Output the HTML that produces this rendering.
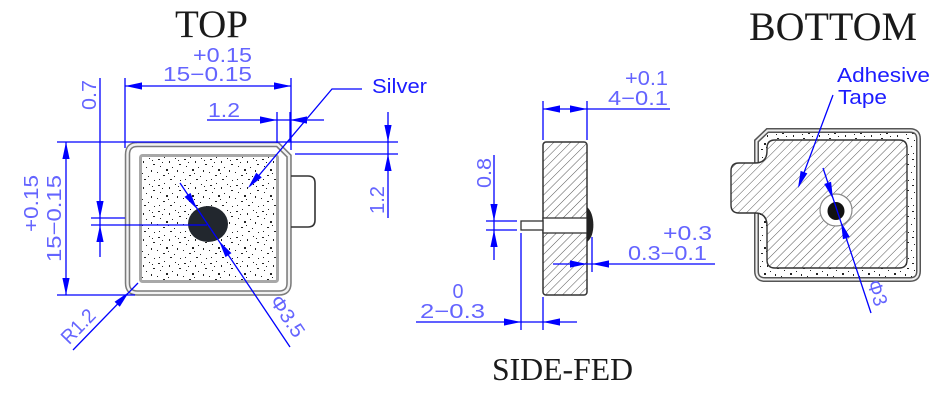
<!DOCTYPE html>
<html><head><meta charset="utf-8"><style>
html,body{margin:0;padding:0;background:#fff;}
svg{display:block;}
.d{stroke:#0000ff;stroke-width:1.3;fill:none;}
.t{font-family:"Liberation Sans",sans-serif;font-size:20px;fill:#6464ff;}
.l{font-family:"Liberation Sans",sans-serif;font-size:20px;fill:#1c1cff;}
.ti{font-family:"Liberation Serif",serif;fill:#1a1a1a;}
.a{fill:#0000ff;}
</style></head><body>
<svg width="950" height="400" viewBox="0 0 950 400" xmlns="http://www.w3.org/2000/svg">
<defs>
<path id="ar" d="M0,0 L-17,-3.6 L-17,3.6Z"/>
<pattern id="sp" patternUnits="userSpaceOnUse" width="26" height="26">
<rect width="26" height="26" fill="#fff"/>
<g fill="#222" shape-rendering="crispEdges">
<rect x="2" y="3" width="2" height="1"/><rect x="8" y="1" width="1" height="1"/><rect x="13" y="5" width="1" height="2"/><rect x="19" y="2" width="1" height="1"/>
<rect x="23" y="8" width="2" height="1"/><rect x="4" y="10" width="1" height="1"/><rect x="10" y="13" width="2" height="2"/><rect x="16" y="11" width="1" height="1"/>
<rect x="21" y="14" width="1" height="2"/><rect x="1" y="16" width="1" height="1"/><rect x="7" y="19" width="2" height="1"/><rect x="12" y="17" width="1" height="1"/>
<rect x="18" y="20" width="1" height="1"/><rect x="3" y="23" width="1" height="1"/><rect x="14" y="23" width="2" height="1"/><rect x="24" y="24" width="1" height="1"/>
<rect x="6" y="6" width="1" height="1"/><rect x="22" y="4" width="1" height="1"/>
</g></pattern>
<pattern id="ht" patternUnits="userSpaceOnUse" width="6" height="6" patternTransform="rotate(45)">
<rect width="6" height="6" fill="#fff"/>
<line x1="0" y1="0" x2="0" y2="6" stroke="#444" stroke-width="0.9"/>
</pattern>
</defs>

<!-- ================= TOP ================= -->
<text class="ti" x="175" y="37" font-size="39" textLength="73" lengthAdjust="spacingAndGlyphs">TOP</text>

<path d="M137,144.5 L277.5,144.5 L289,156 L289,283 Q289,293 279,293 L137.5,293 Q127.5,293 127.5,283 L127.5,154.5 Q127.5,144.5 137.5,144.5Z" fill="#fff" stroke="#7a7a7a" stroke-width="5.5"/>
<path d="M137,144.5 L277.5,144.5 L289,156 L289,283 Q289,293 279,293 L137.5,293 Q127.5,293 127.5,283 L127.5,154.5 Q127.5,144.5 137.5,144.5Z" fill="none" stroke="#f2f2f2" stroke-width="2.4"/>
<rect x="140.5" y="155.5" width="137" height="126" rx="2" fill="url(#sp)" stroke="#a8a8a8" stroke-width="3"/>
<ellipse cx="208" cy="224" rx="20" ry="18" fill="#22272e"/>
<path d="M291,176 L308,176 Q315,176 315,183 L315,220 Q315,227 308,227 L291,227" fill="none" stroke="#333" stroke-width="1.6"/>

<line class="d" x1="125" y1="86" x2="291" y2="86"/>
<line class="d" x1="125" y1="78" x2="125" y2="148"/>
<line class="d" x1="291" y1="78" x2="291" y2="150"/>
<use href="#ar" class="a" transform="translate(125,86) rotate(180)"/>
<use href="#ar" class="a" transform="translate(291,86)"/>
<text class="t" x="252" y="62" text-anchor="end" textLength="59" lengthAdjust="spacingAndGlyphs">+0.15</text>
<text class="t" x="252" y="81" text-anchor="end" textLength="89" lengthAdjust="spacingAndGlyphs">15−0.15</text>

<line class="d" x1="100" y1="78" x2="100" y2="257"/>
<line class="d" x1="91" y1="218" x2="125" y2="218"/>
<line class="d" x1="91" y1="225" x2="207" y2="225"/>
<use href="#ar" class="a" transform="translate(100,218) rotate(90)"/>
<use href="#ar" class="a" transform="translate(100,225) rotate(-90)"/>
<text class="t" transform="translate(96,110) rotate(-90)" textLength="30" lengthAdjust="spacingAndGlyphs">0.7</text>

<line class="d" x1="66" y1="142" x2="66" y2="295"/>
<line class="d" x1="57" y1="142" x2="398" y2="142"/>
<line class="d" x1="57" y1="295" x2="135" y2="295"/>
<use href="#ar" class="a" transform="translate(66,142) rotate(-90)"/>
<use href="#ar" class="a" transform="translate(66,295) rotate(90)"/>
<text class="t" transform="translate(38,232) rotate(-90)" textLength="57" lengthAdjust="spacingAndGlyphs">+0.15</text>
<text class="t" transform="translate(61,262) rotate(-90)" textLength="87" lengthAdjust="spacingAndGlyphs">15−0.15</text>

<line class="d" x1="207" y1="120" x2="324" y2="120"/>
<line class="d" x1="277" y1="112" x2="277" y2="143"/>
<line class="d" x1="290" y1="112" x2="290" y2="142"/>
<use href="#ar" class="a" transform="translate(277,120)"/>
<use href="#ar" class="a" transform="translate(290,120) rotate(180)"/>
<text class="t" x="208" y="117" textLength="32" lengthAdjust="spacingAndGlyphs">1.2</text>

<line class="d" x1="388" y1="112" x2="388" y2="218"/>
<line class="d" x1="295" y1="154" x2="398" y2="154"/>
<use href="#ar" class="a" transform="translate(388,142) rotate(90)"/>
<use href="#ar" class="a" transform="translate(388,154) rotate(-90)"/>
<text class="t" transform="translate(384,214) rotate(-90)" textLength="28" lengthAdjust="spacingAndGlyphs">1.2</text>

<polyline class="d" points="362,89 332,89 250,186"/>
<use href="#ar" class="a" transform="translate(248,188) rotate(130.3)"/>
<text class="l" x="372" y="93" textLength="55" lengthAdjust="spacingAndGlyphs">Silver</text>

<line class="d" x1="180" y1="183" x2="290" y2="347"/>
<use href="#ar" class="a" transform="translate(197,209) rotate(56.1)"/>
<use href="#ar" class="a" transform="translate(219,241) rotate(236.1)"/>
<text class="t" transform="translate(282,320) rotate(56.1)" text-anchor="middle" textLength="46" lengthAdjust="spacingAndGlyphs">Φ3.5</text>

<line class="d" x1="73" y1="350" x2="138" y2="283"/>
<use href="#ar" class="a" transform="translate(129,292) rotate(-45.9)"/>
<text class="t" transform="translate(83,331) rotate(-45.9)" text-anchor="middle" textLength="40" lengthAdjust="spacingAndGlyphs">R1.2</text>

<!-- ================= SIDE ================= -->
<rect x="543" y="142" width="44" height="153" rx="3" fill="url(#ht)" stroke="#333" stroke-width="1.5"/>
<rect x="543" y="218" width="44" height="15" fill="#fff" stroke="#333" stroke-width="1.3"/>
<rect x="521" y="221" width="22" height="9" fill="#fff" stroke="#333" stroke-width="1.3"/>
<path d="M587,207 C595,213 596,236 587,242 Z" fill="#222"/>

<line class="d" x1="543" y1="101" x2="543" y2="140"/>
<line class="d" x1="587" y1="101" x2="587" y2="140"/>
<line class="d" x1="543" y1="109" x2="670" y2="109"/>
<use href="#ar" class="a" transform="translate(543,109) rotate(180)"/>
<use href="#ar" class="a" transform="translate(587,109)"/>
<text class="t" x="668" y="85" text-anchor="end" textLength="43" lengthAdjust="spacingAndGlyphs">+0.1</text>
<text class="t" x="668" y="105" text-anchor="end" textLength="60" lengthAdjust="spacingAndGlyphs">4−0.1</text>

<line class="d" x1="494" y1="155" x2="494" y2="260"/>
<line class="d" x1="486" y1="221" x2="517" y2="221"/>
<line class="d" x1="486" y1="230" x2="517" y2="230"/>
<use href="#ar" class="a" transform="translate(494,221) rotate(90)"/>
<use href="#ar" class="a" transform="translate(494,230) rotate(-90)"/>
<text class="t" transform="translate(491,188) rotate(-90)" textLength="30" lengthAdjust="spacingAndGlyphs">0.8</text>

<line class="d" x1="553" y1="264" x2="715" y2="264"/>
<line class="d" x1="592" y1="237" x2="592" y2="272"/>
<use href="#ar" class="a" transform="translate(587,264)"/>
<use href="#ar" class="a" transform="translate(592,264) rotate(180)"/>
<text class="t" x="712" y="240" text-anchor="end" textLength="49" lengthAdjust="spacingAndGlyphs">+0.3</text>
<text class="t" x="707" y="260" text-anchor="end" textLength="79" lengthAdjust="spacingAndGlyphs">0.3−0.1</text>

<line class="d" x1="416" y1="322" x2="577" y2="322"/>
<line class="d" x1="521" y1="233" x2="521" y2="330"/>
<line class="d" x1="543" y1="297" x2="543" y2="330"/>
<use href="#ar" class="a" transform="translate(521,322)"/>
<use href="#ar" class="a" transform="translate(543,322) rotate(180)"/>
<text class="t" x="458" y="298" text-anchor="middle" textLength="11" lengthAdjust="spacingAndGlyphs">0</text>
<text class="t" x="420" y="318" textLength="65" lengthAdjust="spacingAndGlyphs">2−0.3</text>

<text class="ti" x="492" y="380" font-size="32" textLength="141" lengthAdjust="spacingAndGlyphs">SIDE-FED</text>

<!-- ================= BOTTOM ================= -->
<text class="ti" x="749" y="40" font-size="40" textLength="168" lengthAdjust="spacingAndGlyphs">BOTTOM</text>

<path d="M756.5,141 L767.5,130.5 L910,130.5 Q918.5,130.5 918.5,139 L918.5,271 Q918.5,279.5 910,279.5 L765,279.5 Q756.5,279.5 756.5,271 Z" fill="url(#sp)"/>
<path d="M756.5,163 L756.5,141 L767.5,130.5 L910,130.5 Q918.5,130.5 918.5,139 L918.5,271 Q918.5,279.5 910,279.5 L765,279.5 Q756.5,279.5 756.5,271 L756.5,213" fill="none" stroke="#555" stroke-width="5"/>
<path d="M756.5,163 L756.5,141 L767.5,130.5 L910,130.5 Q918.5,130.5 918.5,139 L918.5,271 Q918.5,279.5 910,279.5 L765,279.5 Q756.5,279.5 756.5,271 L756.5,213" fill="none" stroke="#eee" stroke-width="2"/>
<path d="M767,148 Q767,140 775,140 L899,140 Q907,140 907,148 L907,260 Q907,268 899,268 L775,268 Q767,268 767,260 L767,226 Q767,213 755,213 L739,213 Q731,213 731,205 L731,171 Q731,163 739,163 L755,163 Q767,163 767,151 Z" fill="url(#ht)" stroke="#333" stroke-width="1.4"/>
<circle cx="836" cy="210" r="16" fill="#fff" stroke="#888" stroke-width="1.2"/>
<ellipse cx="836" cy="211" rx="8.5" ry="9" fill="#111"/>

<line class="d" x1="823" y1="168" x2="871" y2="313"/>
<use href="#ar" class="a" transform="translate(833,199) rotate(71.7)"/>
<use href="#ar" class="a" transform="translate(841,222) rotate(251.7)"/>
<text class="t" transform="translate(871,295) rotate(71.7)" text-anchor="middle" textLength="26" lengthAdjust="spacingAndGlyphs">Φ3</text>

<line class="d" x1="833" y1="95" x2="799" y2="186"/>
<use href="#ar" class="a" transform="translate(798,188) rotate(110.6)"/>
<text class="l" x="837" y="82" textLength="93" lengthAdjust="spacingAndGlyphs">Adhesive</text>
<text class="l" x="838" y="104" textLength="49" lengthAdjust="spacingAndGlyphs">Tape</text>
</svg>
</body></html>
